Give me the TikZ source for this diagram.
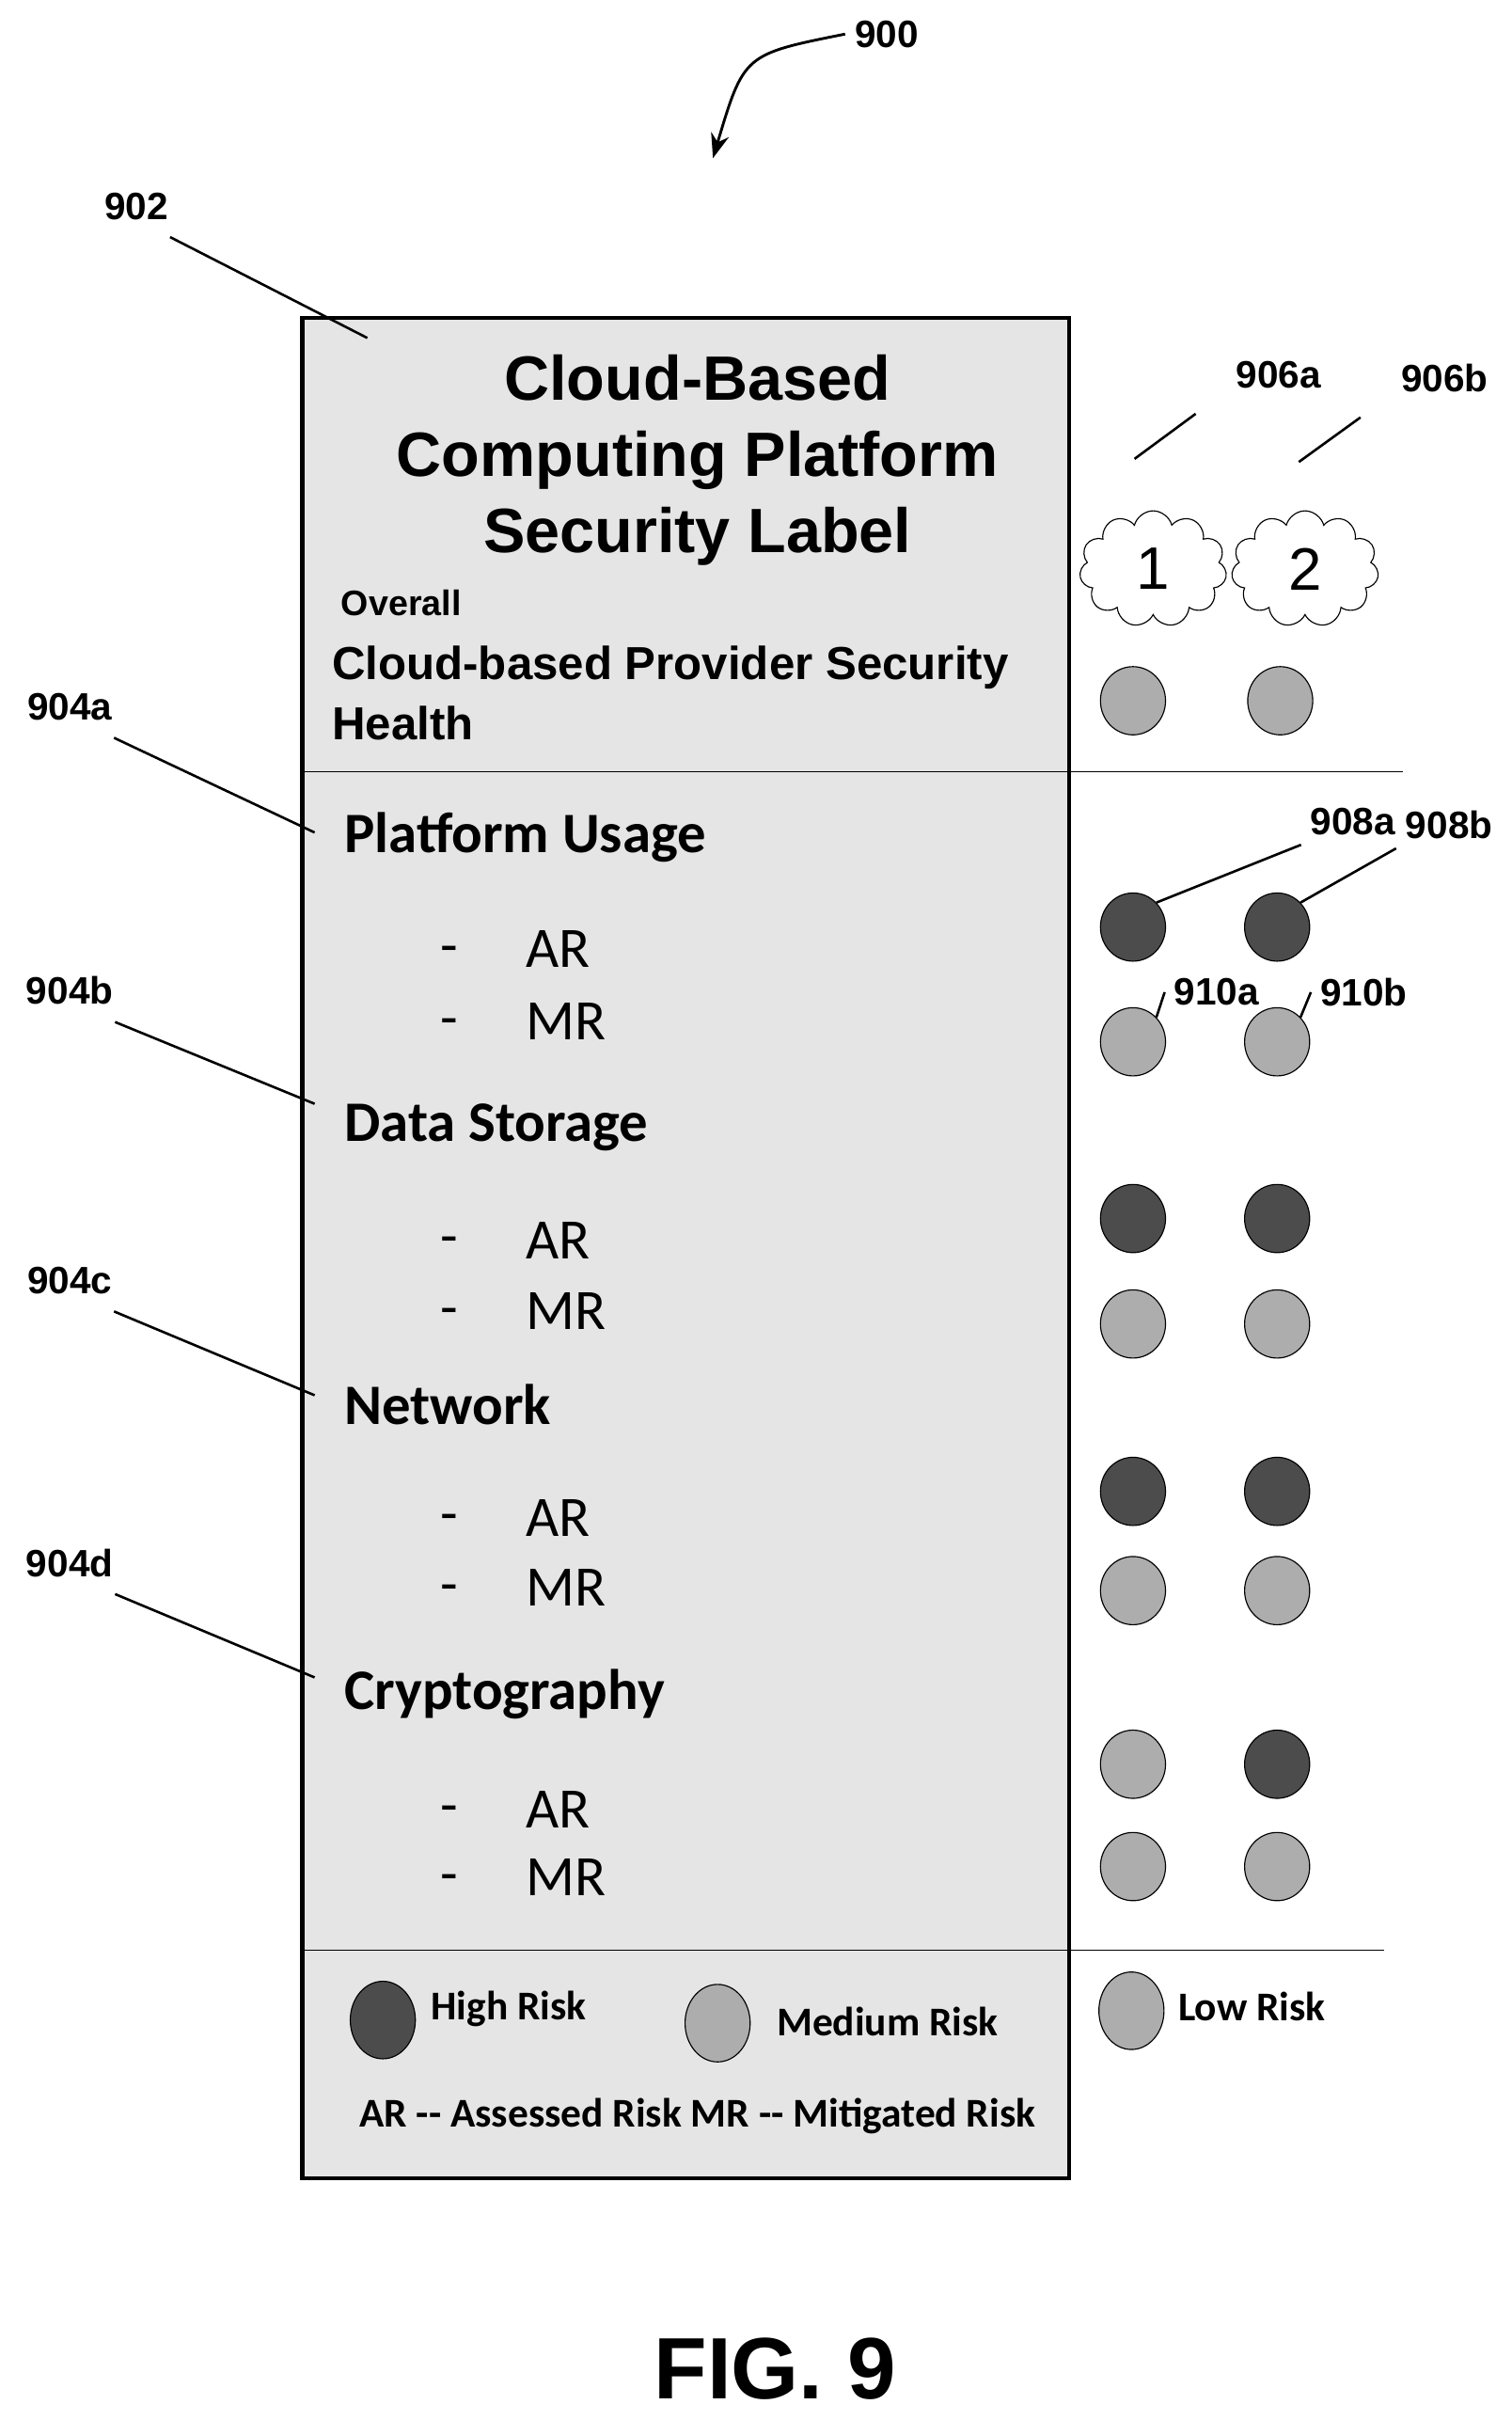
\documentclass[tikz,border=0pt]{standalone}
\usepackage{fontspec}
\setmainfont{Liberation Sans}
\newfontfamily\calfont{Carlito}
\usetikzlibrary{arrows.meta,shapes,shapes.symbols,positioning}

\begin{document}
\begin{tikzpicture}[x=0.02cm,y=-0.02cm]
            \tikzstyle{ref}=[font=\bfseries\fontsize{14}{14}\selectfont];
            \tikzstyle{lead}=[line width=0.9pt];
            \tikzstyle{high}=[draw,ellipse,fill=black!70,minimum width=0.84cm,minimum height=0.88cm,inner sep=0pt];
            \tikzstyle{med}=[draw,ellipse,fill=black!32,minimum width=0.84cm,minimum height=0.88cm,inner sep=0pt];
            \tikzstyle{sec}=[anchor=west,font=\calfont\bfseries\fontsize{21}{21}\selectfont];
            \tikzstyle{item}=[anchor=west,font=\calfont\fontsize{21}{21}\selectfont];
            \tikzstyle{lbl}=[font=\calfont\bfseries\fontsize{15}{15}\selectfont];
            \useasboundingbox (0,0) rectangle (975,1561);
            % label box
            \node[draw,line width=1.5pt,fill=black!10,minimum width=9.9cm,minimum height=24cm,inner sep=0pt] (box) at (442.5,805) {};
            \coordinate (r1) at (905,498);
            \coordinate (r2) at (893,1258);
            \draw (box.west |- r1) -- (r1);
            \draw (box.west |- r2) -- (r2);
            \node[font=\bfseries\fontsize{23}{28}\selectfont,align=center] (title) at (450,297) {Cloud-Based\\Computing Platform\\Security Label};
            \node[anchor=west,font=\bfseries\fontsize{13}{13}\selectfont] (ovr) at (214,389) {Overall};
            \node[anchor=west,font=\bfseries\fontsize{17}{22}\selectfont,align=left] (health) at (208,447) {Cloud-based Provider Security\\Health};
            % sections
            \foreach \name/\txt/\y in {pu/Platform Usage/540,ds/Data Storage/727,nw/Network/906,cr/Cryptography/1093}
                \node[sec] (\name) at (216,\y) {\txt};
            \foreach \name/\y/\t in {a1/612/AR,m1/659/MR,a2/800/AR,m2/846/MR,a3/979/AR,m3/1024/MR,a4/1167/AR,m4/1211/MR}{
                \node[item] (d\name) at (278,\y+4) {-};
                \node[item] (\name) at (333,\y) {\t};
            }
            % clouds
            \node[cloud,draw,cloud puffs=11,aspect=1.3,minimum width=1.9cm,minimum height=1.5cm,fill=white,font=\fontsize{22}{22}\selectfont] (c1) at (744,367) {1};
            \node[cloud,draw,cloud puffs=11,aspect=1.3,minimum width=1.9cm,minimum height=1.5cm,fill=white,font=\fontsize{22}{22}\selectfont] (c2) at (842,367) {2};
            % risk dots
            \node[med] (o1) at (731,452) {};
            \node[med] (o2) at (826,452) {};
            \foreach \i/\y/\s in {1/598/high,2/672/med,3/786/high,4/854/med,5/962/high,6/1026/med,7/1138/med,8/1204/med}
                \node[\s] (p\i) at (731,\y) {};
            \foreach \i/\y/\s in {1/598/high,2/672/med,3/786/high,4/854/med,5/962/high,6/1026/med,7/1138/high,8/1204/med}
                \node[\s] (q\i) at (824,\y) {};
            % legend
            \node[high,minimum height=1cm] (lh) at (247,1303) {};
            \node[med,minimum height=1cm] (lm) at (463,1305) {};
            \node[med,minimum height=1cm] (ll) at (730,1297) {};
            \node[lbl,anchor=west] (th) at (272,1296) {High Risk};
            \node[lbl,anchor=west] (tm) at (495,1304) {Medium Risk};
            \node[lbl,anchor=west] (tl) at (754,1294) {Low Risk};
            \node[lbl] (abbr) at (450,1365) {AR -- Assessed Risk MR -- Mitigated Risk};
            % reference numerals
            \node[ref] (n900) at (572,22) {900};
            \node[ref] (n902) at (88,133) {902};
            \node[ref] (n906a) at (825,242) {906a};
            \node[ref] (n906b) at (932,244) {906b};
            \node[ref] (n904a) at (45,456) {904a};
            \node[ref] (n904b) at (45,639) {904b};
            \node[ref] (n904c) at (45,826) {904c};
            \node[ref] (n904d) at (45,1008) {904d};
            \node[ref] (n908a) at (873,530) {908a};
            \node[ref] (n908b) at (935,532) {908b};
            \node[ref] (n910a) at (785,640) {910a};
            \node[ref] (n910b) at (880,640) {910b};
            \coordinate (t902) at (237,218);
            \coordinate (t904a) at (203,537);
            \coordinate (t904b) at (203,712);
            \coordinate (t904c) at (203,900);
            \coordinate (t904d) at (203,1082);
            \coordinate (t906a) at (732,296);
            \coordinate (t906b) at (838,298);
            \coordinate (a900) at (460,102);
            \draw[-{Stealth[length=9pt]},line width=1pt] (n900.west) .. controls (480,35) .. (a900);
            \draw[lead] (n902.south east) ++(-5,5) -- (t902);
            \foreach \n in {904a,904b,904c,904d}
                \draw[lead] (n\n.south east) ++(-5,5) -- (t\n);
            \draw[lead] (n906a.south west) ++(-20,10) -- (t906a);
            \draw[lead] (n906b.south west) ++(-20,10) -- (t906b);
            \draw[lead] (n908a.south west) -- (p1.north east);
            \draw[lead] (n908b.south west) -- (q1.north east);
            \draw[lead] (n910a.west) -- (p2.north east);
            \draw[lead] (n910b.west) -- (q2.north east);
            \node[font=\bfseries\fontsize{32}{32}\selectfont] (fig) at (500,1528) {FIG. 9};
        \end{tikzpicture}
\end{document}
